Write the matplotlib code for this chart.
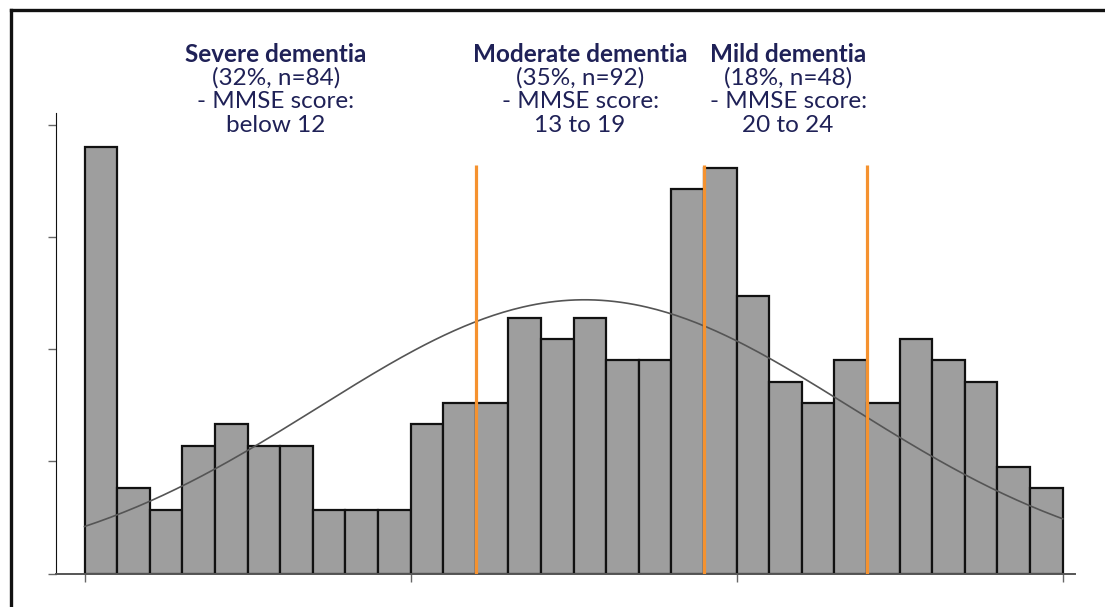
import numpy as np
import matplotlib.pyplot as plt
from matplotlib.lines import Line2D

# MMSE score bins (width 1) and number of patients per bin
scores = np.arange(0, 30)
counts = [20, 4, 3, 6, 7, 6, 6, 3, 3, 3,
          7, 8, 8, 12, 11, 12, 10, 10, 18, 19,
          13, 9, 8, 10, 8, 11, 10, 9, 5, 4]
cutoffs = [12, 19, 24]

group_titles = ['Severe dementia', 'Moderate dementia', 'Mild dementia']
group_share = ['(32%, n=84)', '(35%, n=92)', '(18%, n=48)']
group_range = ['below 12', '13 to 19', '20 to 24']

navy = '#1f2157'
orange = '#f5922f'

counts = np.array(counts)
n_total = counts.sum()
pct = 100 * counts / n_total

# normal curve fitted to the scores
mu = (scores * counts).sum() / n_total
sd = np.sqrt((counts * (scores - mu) ** 2).sum() / (n_total - 1))
xs = np.linspace(0, 30, 300)
curve = 100 * np.exp(-(xs - mu) ** 2 / (2 * sd ** 2)) / (sd * np.sqrt(2 * np.pi))

fig = plt.figure(figsize=(11.05, 6.07), dpi=100)
ax = fig.add_axes([0.0507, 0.0549, 0.9222, 0.7584])

ax.bar(scores, pct, width=1, align='edge', color='#9e9e9e',
       edgecolor='#111111', linewidth=1.6, zorder=2)
ax.plot(xs, curve, color='#555555', lw=1.2, zorder=3)
for c in cutoffs:
    ax.plot([c, c], [0, 7.28], color=orange, lw=2.3, zorder=4, solid_capstyle='butt')

ax.set_xlim(-0.874, 30.38)
ax.set_ylim(0, 8.2)
ax.set_xticks([0, 10, 20, 30])
ax.set_yticks([0, 2, 4, 6, 8])
ax.set_xticklabels([])
ax.set_yticklabels([])
ax.tick_params(axis='both', direction='out', length=6, width=1, color='#666666')
for side in ['top', 'right']:
    ax.spines[side].set_visible(False)
ax.spines['left'].set_color('#111111')
ax.spines['bottom'].set_color('#555555')
ax.spines['bottom'].set_linewidth(1.4)

# group labels above the chart
label_x = [5.87, 15.2, 21.58]
line_y = [9.12, 8.71, 8.29, 7.86]
for x, t, s, r in zip(label_x, group_titles, group_share, group_range):
    ax.text(x, line_y[0], t, ha='center', va='baseline', fontsize=17.5,
            fontweight='bold', family='Lato', color=navy, clip_on=False)
    for y, line in zip(line_y[1:], [s, '- MMSE score:', r]):
        ax.text(x, y, line, ha='center', va='baseline', fontsize=17.5,
                family='Lato', color=navy, clip_on=False)

# outer frame (cut off on the right and bottom)
fx, fy = 11 / 1105, 1 - 10 / 607
fig.add_artist(Line2D([fx, fx], [-0.1, fy], color='#111111', lw=2.4))
fig.add_artist(Line2D([fx, 1.1], [fy, fy], color='#111111', lw=2.4))

fig.savefig('out.png', dpi=100)
